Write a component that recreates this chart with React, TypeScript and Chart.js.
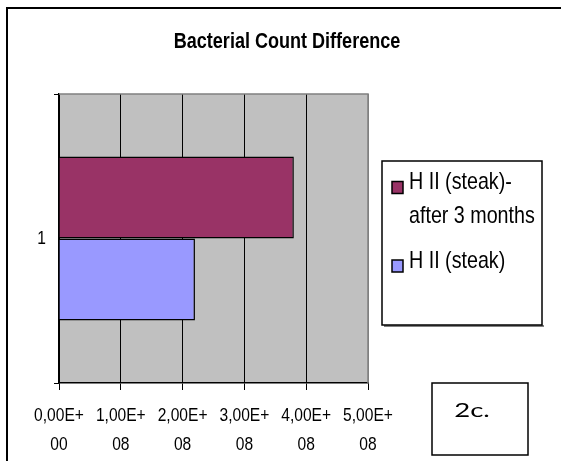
import React, { useEffect, useRef } from "react";
import { Chart, registerables } from "chart.js";

Chart.register(...registerables);

const chartTitle = "Bacterial Count Difference";
const categories = ["1"];
const seriesNames = ["H II (steak)-after 3 months", "H II (steak)"];
const legendLines = [["H II (steak)-", "after 3 months"], ["H II (steak)"]];
const after3Months = [3.8e8];
const steak = [2.2e8];
const xTickLabels = ["0,00E+00", "1,00E+08", "2,00E+08", "3,00E+08", "4,00E+08", "5,00E+08"];
const seriesColors = ["#993366", "#9999FF"];
const panelLabel = "2c.";

const SANS = '"Liberation Sans", Arial, sans-serif';
const SQUEEZE = 0.82;

function narrowText(ctx: any, text: string, x: number, y: number, font: string, align: string, sx = SQUEEZE) {
  ctx.save();
  ctx.translate(x, y);
  ctx.scale(sx, 1);
  ctx.font = font;
  ctx.textAlign = align;
  ctx.textBaseline = "middle";
  ctx.fillStyle = "#000";
  ctx.fillText(text, 0, 0);
  ctx.restore();
}

const decorPlugin = {
  id: "decor",
  beforeDraw(chart: any) {
    const { ctx, chartArea: a } = chart;
    ctx.save();
    ctx.fillStyle = "#fff";
    ctx.fillRect(0, 0, chart.width, chart.height);
    ctx.fillStyle = "#C0C0C0";
    ctx.fillRect(a.left, a.top, a.right - a.left, a.bottom - a.top);
    ctx.restore();
  },
  afterDraw(chart: any) {
    const { ctx, chartArea: a } = chart;
    const xs = chart.scales.x;
    const ys = chart.scales.y;
    ctx.save();
    // plot border (top/right) gray
    ctx.strokeStyle = "#808080";
    ctx.lineWidth = 1.5;
    ctx.beginPath();
    ctx.moveTo(a.left, a.top);
    ctx.lineTo(a.right, a.top);
    ctx.lineTo(a.right, a.bottom);
    ctx.stroke();

    // outer frame
    ctx.strokeStyle = "#000";
    ctx.lineWidth = 2;
    ctx.beginPath();
    ctx.moveTo(7, 461);
    ctx.lineTo(7, 8);
    ctx.lineTo(561, 8);
    ctx.stroke();
    ctx.restore();

    // title
    narrowText(ctx, chartTitle, 287, 42, "bold 22px " + SANS, "center");

    // x tick labels
    xTickLabels.forEach((s, i) => {
      const k = s.indexOf("+");
      const px = xs.getPixelForValue(i * 1e8);
      narrowText(ctx, s.slice(0, k + 1), px, 416, "19px " + SANS, "center");
      narrowText(ctx, s.slice(k + 1), px, 445, "19px " + SANS, "center");
    });
    // y tick labels
    categories.forEach((c, i) => {
      narrowText(ctx, c, 46, ys.getPixelForValue(i), "19px " + SANS, "right");
    });

    ctx.save();
    // legend box
    const lx = 382, ly = 161, lw = 160, lh = 164;
    ctx.fillStyle = "#808080";
    ctx.fillRect(lx + 2, ly + lh, lw, 2);
    ctx.fillStyle = "#fff";
    ctx.fillRect(lx, ly, lw, lh);
    ctx.strokeStyle = "#000";
    ctx.lineWidth = 1.5;
    ctx.strokeRect(lx, ly, lw, lh);
    ctx.restore();

    const itemY = [182.5, 261];
    legendLines.forEach((lines, i) => {
      const y0 = itemY[i];
      ctx.save();
      ctx.fillStyle = seriesColors[i];
      ctx.fillRect(392, y0 - 1, 11, 12);
      ctx.strokeStyle = "#000";
      ctx.lineWidth = 1.5;
      ctx.strokeRect(392, y0 - 1, 11, 12);
      ctx.restore();
      lines.forEach((t, j) => narrowText(ctx, t, 409, y0 + j * 34, "24px " + SANS, "left"));
    });

    // panel label box
    ctx.save();
    ctx.strokeStyle = "#000";
    ctx.lineWidth = 1.5;
    ctx.strokeRect(432, 383, 96, 72);
    ctx.restore();
    narrowText(ctx, panelLabel, 472, 411, '19px Lato, "DejaVu Sans", sans-serif', "center", 1.45);
  },
};

export default function App() {
  const ref = useRef<HTMLCanvasElement | null>(null);
  useEffect(() => {
    if (!ref.current) return;
    const chart = new Chart(ref.current, {
      type: "bar",
      data: {
        labels: categories,
        datasets: [
          {
            label: seriesNames[0],
            data: after3Months,
            backgroundColor: seriesColors[0],
            borderColor: "#000",
            borderWidth: 1.5,
            categoryPercentage: 0.567,
            barPercentage: 1,
          },
          {
            label: seriesNames[1],
            data: steak,
            backgroundColor: seriesColors[1],
            borderColor: "#000",
            borderWidth: 1.5,
            categoryPercentage: 0.567,
            barPercentage: 1,
          },
        ],
      },
      options: {
        indexAxis: "y",
        animation: false,
        responsive: false,
        devicePixelRatio: 1,
        layout: { padding: { left: 0, top: 94, right: 193, bottom: 0 } },
        plugins: { legend: { display: false }, title: { display: false }, tooltip: { enabled: false } },
        scales: {
          x: {
            min: 0,
            max: 5e8,
            afterFit: (s: any) => {
              s.height = 78;
            },
            afterBuildTicks: (s: any) => {
              s.ticks = xTickLabels.map((_, i) => ({ value: i * 1e8 }));
            },
            grid: {
              color: (c: any) => (c.index === xTickLabels.length - 1 ? "#808080" : "#000"),
              tickColor: "#000",
              lineWidth: 1,
              tickLength: 7,
            },
            border: { color: "#000", width: 1.5 },
            ticks: { display: false },
          },
          y: {
            afterFit: (s: any) => {
              s.width = 59;
            },
            grid: {
              offset: true,
              drawOnChartArea: false,
              color: "#000",
              tickLength: 5,
            },
            border: { color: "#000", width: 1.5 },
            ticks: { display: false },
          },
        },
      },
      plugins: [decorPlugin],
    });
    return () => chart.destroy();
  }, []);
  return (
    <div style={{ position: "fixed", left: 0, top: 0, width: 561, height: 461 }}>
      <canvas ref={ref} width={561} height={461} style={{ width: 561, height: 461, display: "block" }} />
    </div>
  );
}
